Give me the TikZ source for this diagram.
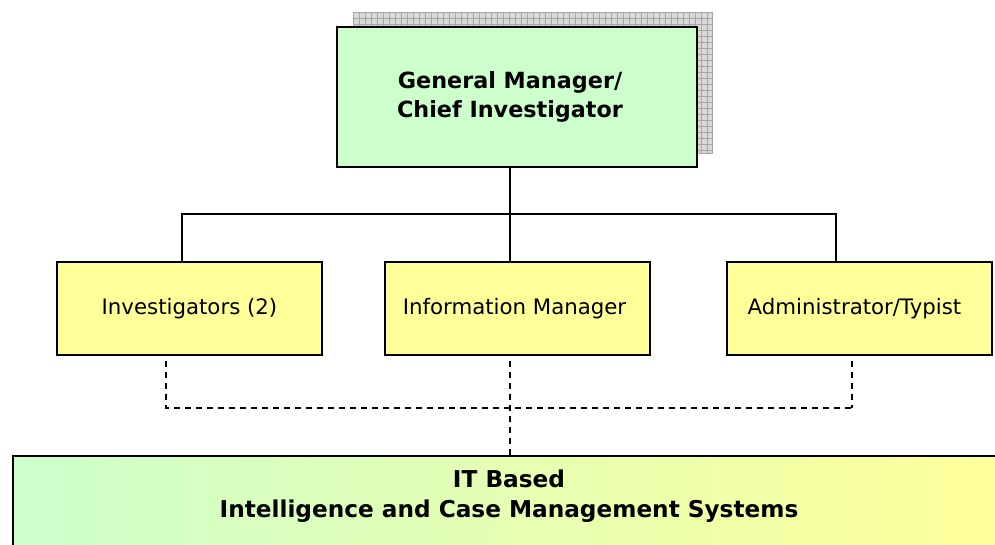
\documentclass[tikz,border=0pt]{standalone}
\usepackage{fontspec}
\setmainfont{DejaVu Sans}
\definecolor{lgreen}{HTML}{CCFFCC}
\definecolor{lyellow}{HTML}{FFFF99}
\begin{document}
\begin{tikzpicture}[x=1pt,y=-1pt,
  box/.style={draw=black, line width=2pt, rectangle, inner sep=0pt, align=center},
  staff/.style={box, fill=lyellow, minimum width=265pt, minimum height=93pt, font=\fontsize{21.3}{25}\selectfont},
  conn/.style={line width=1.5pt},
  dconn/.style={line width=1.5pt, dash pattern=on 6pt off 5pt, dash phase=6pt}]
\path[clip] (0,0) rectangle (995,545);
\fill[white] (0,0) rectangle (995,545);
% grid shadow
\fill[gray!30] (353,12) rectangle (712,153);
\foreach \gx in {353,359,...,712} {\draw[gray!70, line width=0.6pt] (\gx,12) -- (\gx,153);}
\foreach \gy in {12,18,...,153} {\draw[gray!70, line width=0.6pt] (353,\gy) -- (712,\gy);}
\draw[gray!70, line width=0.6pt] (353,12) rectangle (712,153);
\node[box, fill=lgreen, minimum width=360pt, minimum height=140pt,
      font=\fontsize{22.3}{29.5}\selectfont\bfseries] (gm) at (517,97) {General Manager/\hspace*{14pt}\\Chief Investigator\hspace*{14pt}};
\node[staff] (inv) at (189.5,308.5) {Investigators (2)};
\node[staff] (im) at (517,308.5) {Information Manager\hspace*{5pt}};
\node[staff] (adm) at (859.5,308.5) {Administrator/Typist\hspace*{10pt}};
\node[draw=black, line width=2pt, left color=lgreen, right color=lyellow, inner sep=0pt,
      minimum width=1000pt, minimum height=120pt, anchor=north west] (it) at (12,455) {};
\node[font=\fontsize{23.2}{30}\selectfont\bfseries, align=center] (ittext) at (509,496)
  {IT Based\\Intelligence and Case Management Systems};
% solid connectors
\coordinate (jc) at (510,214);
\coordinate (jl) at (182,214);
\coordinate (jr) at (836,214);
\draw[conn] (gm.south -| jc) -- (jc);
\draw[conn] (inv.north -| jl) -- (jl) -- (jr) -- (adm.north -| jr);
\draw[conn] (jc) -- (im.north -| jc);
% dashed connectors
\coordinate (dl) at (166,408);
\coordinate (dc) at (510,408);
\coordinate (dr) at (852,408);
\draw[dconn] (inv.south -| dl) -- (dl) -- (dr);
\draw[dconn] (adm.south -| dr) -- (dr);
\draw[dconn] (im.south -| dc) -- (dc) -- (it.north -| dc);
\end{tikzpicture}
\end{document}
